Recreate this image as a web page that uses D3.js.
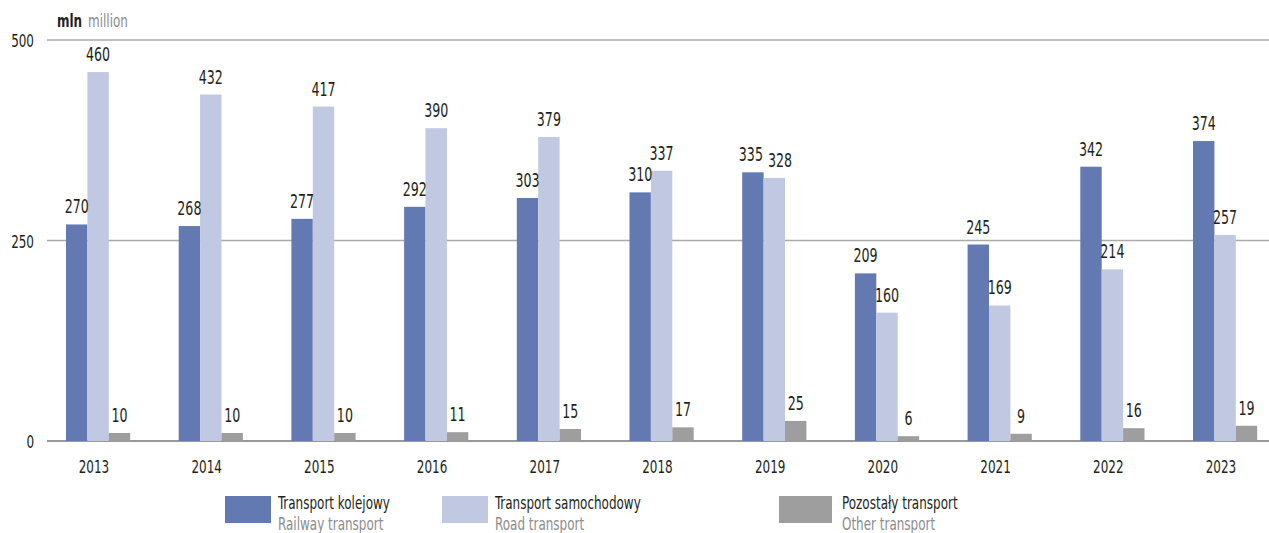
<!DOCTYPE html>
<html>
<head>
<meta charset="utf-8">
<script src="https://cdn.jsdelivr.net/npm/d3@7"></script>
<style>
	body { margin: 0; background: #fff; }
	svg { display: block; font-family: "DejaVu Sans Condensed", "DejaVu Sans", sans-serif; font-stretch: condensed; }
</style>
</head>
<body>
<svg class="chart" width="1269" height="533"></svg>
<script>
const years = ['2013', '2014', '2015', '2016', '2017', '2018', '2019', '2020', '2021', '2022', '2023'];
const railway = [270, 268, 277, 292, 303, 310, 335, 209, 245, 342, 374];
const road = [460, 432, 417, 390, 379, 337, 328, 160, 169, 214, 257];
const other = [10, 10, 10, 11, 15, 17, 25, 6, 9, 16, 19];
const yTicks = [0, 250, 500];
const seriesNames = [
	['Transport kolejowy', 'Railway transport'],
	['Transport samochodowy', 'Road transport'],
	['Pozostały transport', 'Other transport']
];
const colors = ['#6379b1', '#c0c8e2', '#9e9e9e'];
const squeeze = 0.74;

// narrow the font horizontally, text is placed with the transform
const place = (sel, fx, fy) => sel
	.attr('transform', (d, i) => `translate(${fx(d, i)}, ${fy(d, i)}) scale(${squeeze}, 1)`);

function startApp() {
	const svg = d3.select('.chart');
	const series = [railway, road, other];

	const xScale = d3.scaleBand().domain(years).range([41.6, 1281.3]);
	const xSub = d3.scaleBand().domain([0, 1, 2]).range([24.4, 88.6]);
	const yScale = d3.scaleLinear().domain([0, 500]).range([441, 40]);

	// grid
	svg.append('g')
		.selectAll('line')
		.data(yTicks)
		.join('line')
		.attr('x1', 47)
		.attr('x2', 1269)
		.attr('y1', d => yScale(d))
		.attr('y2', d => yScale(d))
		.attr('stroke', d => d === 0 ? '#777' : '#aaa')
		.attr('stroke-width', 1.5);

	svg.append('g')
		.selectAll('text')
		.data(yTicks)
		.join('text')
		.call(place, () => 34, d => yScale(d) + 7)
		.attr('text-anchor', 'end')
		.attr('font-size', 18)
		.attr('fill', '#231f20')
		.text(d => d);

	const title = svg.append('text')
		.attr('transform', `translate(57, 27) scale(${squeeze}, 1)`)
		.attr('font-size', 18);
	title.append('tspan').attr('fill', '#231f20').attr('font-weight', 'bold').text('mln');
	title.append('tspan').attr('fill', '#8c8c8c').attr('dx', 8).text('million');

	// bars
	const group = svg.selectAll('g.year')
		.data(years)
		.join('g')
		.attr('class', 'year')
		.attr('transform', d => `translate(${xScale(d)}, 0)`);

	group.selectAll('rect')
		.data((d, i) => series.map((s, k) => ({k, v: s[i]})))
		.join('rect')
		.attr('x', d => xSub(d.k))
		.attr('width', xSub.bandwidth())
		.attr('y', d => yScale(d.v))
		.attr('height', d => yScale(0) - yScale(d.v))
		.attr('fill', d => colors[d.k]);

	group.each(function(yr, gi) {
		const labels = series.map((s, k) => ({
			k, v: s[gi],
			x: xSub(k) + xSub.bandwidth() / 2,
			y: yScale(s[gi]) - 11
		}));
		const texts = d3.select(this).selectAll('text.val')
			.data(labels)
			.join('text')
			.attr('class', 'val')
			.attr('text-anchor', 'middle')
			.attr('font-size', 19)
			.attr('fill', '#231f20')
			.text(d => d.v);
		// push neighbouring labels apart when they sit at about the same height
		texts.each(function(d) { d.w = this.getBBox().width * squeeze; });
		for (let k = 0; k < labels.length - 1; k++) {
			const a = labels[k], b = labels[k + 1];
			const gap = (b.x - b.w / 2) - (a.x + a.w / 2);
			if (Math.abs(a.y - b.y) < 16 && gap < 5) {
				a.x -= 2;
				b.x += 5 - gap - 2;
			}
		}
		texts.call(place, d => d.x, d => d.y);
	});

	group.append('text')
		.call(place, () => xScale.bandwidth() / 2 - 4, () => 473)
		.attr('text-anchor', 'middle')
		.attr('font-size', 18)
		.attr('fill', '#231f20')
		.text(d => d);

	// legend
	const legendX = [225, 442, 779];
	const legend = svg.selectAll('g.legend')
		.data(seriesNames)
		.join('g')
		.attr('class', 'legend')
		.attr('transform', (d, i) => `translate(${legendX[i]}, 496)`);

	legend.append('rect')
		.attr('width', (d, i) => i === 2 ? 53 : 46)
		.attr('height', 27)
		.attr('fill', (d, i) => colors[i]);

	legend.append('text')
		.call(place, (d, i) => i === 2 ? 63 : 53, () => 13)
		.attr('font-size', 18)
		.attr('fill', '#231f20')
		.text(d => d[0]);

	legend.append('text')
		.call(place, (d, i) => i === 2 ? 63 : 53, () => 34)
		.attr('font-size', 18)
		.attr('fill', '#8c8c8c')
		.text(d => d[1]);
}

window.onload = startApp;
</script>
</body>
</html>
